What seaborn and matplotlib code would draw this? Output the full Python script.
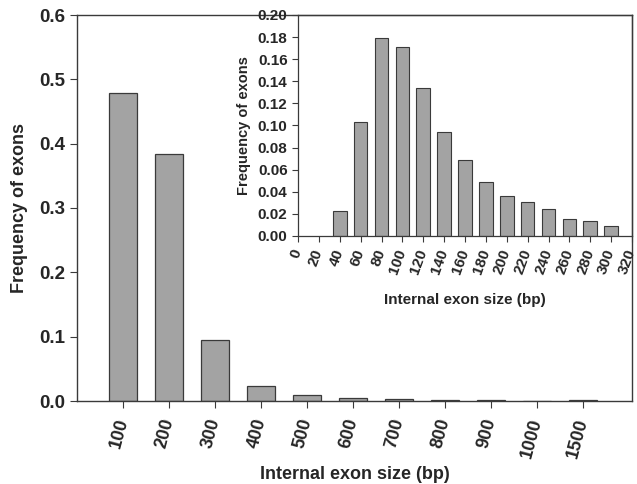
import numpy as np
import pandas as pd
import matplotlib
matplotlib.use("Agg")
import matplotlib.pyplot as plt
import seaborn as sns

# ====== data ======
main_sizes = ["100", "200", "300", "400", "500", "600", "700", "800", "900", "1000", "1500"]
main_freq = [0.478, 0.384, 0.095, 0.024, 0.010, 0.005, 0.003, 0.0015, 0.001, 0.0005, 0.001]

inset_sizes = [40, 60, 80, 100, 120, 140, 160, 180, 200, 220, 240, 260, 280, 300]
inset_freq = [0.023, 0.103, 0.179, 0.171, 0.134, 0.094, 0.069, 0.049,
              0.036, 0.031, 0.024, 0.015, 0.014, 0.009]
inset_ticks = list(range(0, 321, 20))
# =====================================

sns.set_style("ticks")
plt.rcParams['font.family'] = ['Liberation Sans', 'DejaVu Sans']
plt.rcParams['font.weight'] = 'bold'

BAR = "#a3a3a3"
EDGE = "#3a3a3a"

fig = plt.figure(figsize=(6.37, 4.84), dpi=100)
W, H = 637, 484
ax = fig.add_axes([77 / W, 1 - 401 / H, (632 - 77) / W, (401 - 15) / H])

main_df = pd.DataFrame({"size": main_sizes, "freq": main_freq})
sns.barplot(data=main_df, x="size", y="freq", order=main_sizes, color=BAR,
            edgecolor=EDGE, linewidth=0.9, width=0.6, saturation=1, ax=ax)
ax.set_xlim(-1.0, 11.07)
ax.set_ylim(0, 0.6)
ax.set_yticks(np.arange(0, 0.61, 0.1))
ax.set_yticklabels([f"{v:.1f}" for v in np.arange(0, 0.61, 0.1)], fontsize=13.5, fontweight='bold')
ax.set_xticks(range(len(main_sizes)))
ax.set_xticklabels(main_sizes, rotation=75, ha='right', va='center',
                   rotation_mode='anchor', fontsize=13, fontweight='bold')
ax.tick_params(axis='x', pad=8, length=5, color=EDGE)
ax.tick_params(axis='y', length=5, color=EDGE)
ax.set_xlabel("Internal exon size (bp)", fontsize=13, fontweight='bold', labelpad=4)
ax.set_ylabel("Frequency of exons", fontsize=13, fontweight='bold', labelpad=8)
for s in ax.spines.values():
    s.set_color(EDGE)
    s.set_linewidth(1.0)

# inset
ins = fig.add_axes([298 / W, 1 - 236 / H, (632 - 298) / W, (236 - 15) / H])
inset_df = pd.DataFrame({"size": inset_sizes, "freq": inset_freq})
sns.barplot(data=inset_df, x="size", y="freq", native_scale=True, color=BAR,
            edgecolor=EDGE, linewidth=0.8, width=0.65, saturation=1, ax=ins)
ins.set_xlim(0, 320)
ins.set_ylim(0, 0.20)
ins.set_xticks(inset_ticks)
ins.set_xticklabels([str(t) for t in inset_ticks], rotation=70, ha='right', va='center',
                    rotation_mode='anchor', fontsize=11, fontweight='bold')
yt = np.arange(0, 0.201, 0.02)
ins.set_yticks(yt)
ins.set_yticklabels([f"{v:.2f}" for v in yt], fontsize=11, fontweight='bold')
ins.tick_params(axis='x', pad=6, length=4, color=EDGE)
ins.tick_params(axis='y', length=4, color=EDGE)
ins.set_xlabel("Internal exon size (bp)", fontsize=11, fontweight='bold', labelpad=12)
ins.set_ylabel("Frequency of exons", fontsize=10.5, fontweight='bold', labelpad=5)
ins.patch.set_alpha(0)
for s in ins.spines.values():
    s.set_color(EDGE)
    s.set_linewidth(0.9)

fig.savefig("out.png", dpi=100)
